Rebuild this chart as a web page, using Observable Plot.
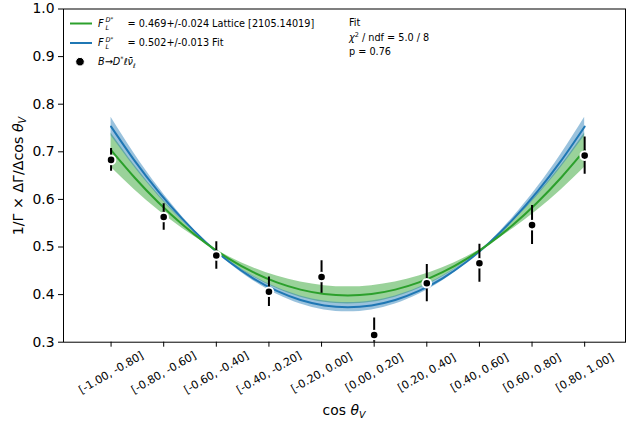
<!DOCTYPE html>
<html><head><meta charset="utf-8">
<script src="https://cdn.jsdelivr.net/npm/d3@7"></script>
<script src="https://cdn.jsdelivr.net/npm/@observablehq/plot@0.6"></script>
<style>body{margin:0;background:#fff;} #chart{width:626px;height:426px;}</style>
</head><body><div id="chart"></div>
<script>
// ---- data ----
const binLabels = ["[-1.00, -0.80]","[-0.80, -0.60]","[-0.60, -0.40]","[-0.40, -0.20]","[-0.20, 0.00]",
                   "[0.00, 0.20]","[0.20, 0.40]","[0.40, 0.60]","[0.60, 0.80]","[0.80, 1.00]"];
const dataY   = [0.683, 0.563, 0.482, 0.406, 0.437, 0.315, 0.424, 0.466, 0.546, 0.692];
const dataErr = [0.024, 0.028, 0.029, 0.031, 0.034, 0.036, 0.039, 0.040, 0.041, 0.039];
const yTicks = [0.3, 0.4, 0.5, 0.6, 0.7, 0.8, 0.9, 1.0];

const cosGrid = [-1.0,-0.9,-0.8,-0.7,-0.6,-0.5,-0.4,-0.3,-0.2,-0.1,0.0,0.1,0.2,0.3,0.4,0.5,0.6,0.7,0.8,0.9,1.0];
// Fit (F_L = 0.502 +/- 0.013)
const fitMid = [0.7530,0.6809,0.6164,0.5595,0.5101,0.4684,0.4342,0.4077,0.3887,0.3773,0.3735,0.3773,0.3887,0.4077,0.4342,0.4684,0.5101,0.5595,0.6164,0.6809,0.7530];
const fitLo  = [0.7335,0.6669,0.6074,0.5549,0.5093,0.4708,0.4393,0.4148,0.3973,0.3868,0.3833,0.3868,0.3973,0.4148,0.4393,0.4708,0.5093,0.5549,0.6074,0.6669,0.7335];
const fitHi  = [0.7725,0.6948,0.6254,0.5640,0.5109,0.4659,0.4292,0.4005,0.3801,0.3678,0.3638,0.3678,0.3801,0.4005,0.4292,0.4659,0.5109,0.5640,0.6254,0.6948,0.7725];
// Lattice (F_L = 0.469 +/- 0.024)
const latMid = [0.7035,0.6455,0.5936,0.5478,0.5081,0.4746,0.4471,0.4257,0.4105,0.4013,0.3983,0.4013,0.4105,0.4257,0.4471,0.4746,0.5081,0.5478,0.5936,0.6455,0.7035];
const latLo  = [0.6675,0.6198,0.5770,0.5394,0.5067,0.4791,0.4565,0.4389,0.4263,0.4188,0.4163,0.4188,0.4263,0.4389,0.4565,0.4791,0.5067,0.5394,0.5770,0.6198,0.6675];
const latHi  = [0.7395,0.6712,0.6102,0.5563,0.5096,0.4701,0.4377,0.4126,0.3946,0.3838,0.3803,0.3838,0.3946,0.4126,0.4377,0.4701,0.5096,0.5563,0.6102,0.6712,0.7395];

const GREEN = "#2ca02c", BLUE = "#1f77b4";

// ---- tables ----
const points = binLabels.map((b, i) => ({i, label: b, y: dataY[i], e: dataErr[i]}));
const nb = binLabels.length - 1;
const curve = cosGrid.map((c, k) => ({x: (c + 1) / 2 * nb,
  fm: fitMid[k], fl: fitLo[k], fh: fitHi[k], lm: latMid[k], ll: latLo[k], lh: latHi[k]}));

const plot = Plot.plot({
  width: 626, height: 426,
  marginLeft: 63, marginRight: 1, marginTop: 8.5, marginBottom: 84.3,
  x: {domain: [-0.904, 9.776], axis: null},
  y: {domain: [0.3, 1.0], axis: null},
  style: {fontFamily: "DejaVu Sans", background: "white", color: "black"},
  marks: [
    Plot.areaY(curve, {x: "x", y1: "ll", y2: "lh", fill: GREEN, fillOpacity: 0.48, curve: "natural"}),
    Plot.areaY(curve, {x: "x", y1: "fl", y2: "fh", fill: BLUE, fillOpacity: 0.45, curve: "natural"}),
    Plot.lineY(curve, {x: "x", y: "fm", stroke: BLUE, strokeWidth: 2, curve: "natural"}),
    Plot.lineY(curve, {x: "x", y: "lm", stroke: GREEN, strokeWidth: 2, curve: "natural"}),
    Plot.ruleX(points, {x: "i", y1: d => d.y - d.e, y2: d => d.y + d.e, stroke: "black", strokeWidth: 2, clip: true}),
    Plot.dot(points, {x: "i", y: "y", r: 4.3, fill: "black", stroke: "white", strokeWidth: 2}),
    Plot.frame({stroke: "black", strokeWidth: 1}),
    Plot.axisY({ticks: yTicks, tickFormat: d3.format(".1f"), tickSize: 5, tickPadding: 4, fontSize: 13.9, label: null}),
    Plot.axisX({ticks: points.map(d => d.i), tickSize: 5, tickFormat: () => "", label: null}),
    Plot.text(points, {x: "i", text: "label", frameAnchor: "bottom", dy: 30.5, rotate: -30,
      textAnchor: "middle", lineAnchor: "middle", fontSize: 11})
  ]
});
document.getElementById("chart").appendChild(plot);

// ---- annotations ----
const svg = d3.select(plot);
const g = svg.append("g").attr("font-family", "DejaVu Sans").attr("fill", "black").attr("text-anchor", "start");

// legend
const legendRows = [
  {color: GREEN, y: 23.5, text: "= 0.469+/-0.024 Lattice [2105.14019]"},
  {color: BLUE,  y: 43,   text: "= 0.502+/-0.013 Fit"}
];
legendRows.forEach(r => {
  g.append("line").attr("x1", 70).attr("x2", 92).attr("y1", r.y).attr("y2", r.y)
    .attr("stroke", r.color).attr("stroke-width", 2);
  const t = g.append("text").attr("y", r.y).attr("dy", "0.35em").attr("font-size", 9.7);
  t.append("tspan").attr("x", 98).attr("font-style", "italic").text("F");
  t.append("tspan").attr("x", 105.5).attr("dy", 3).attr("font-size", 6.5).attr("font-style", "italic").text("L");
  t.append("tspan").attr("x", 105.5).attr("dy", -7.5).attr("font-size", 6.5).attr("font-style", "italic").text("D");
  t.append("tspan").attr("dy", -1).attr("font-size", 5.5).text("*");
  t.append("tspan").attr("x", 127.5).attr("dy", 5.5).text(r.text);
});
g.append("circle").attr("cx", 80).attr("cy", 61.7).attr("r", 4.3).attr("fill", "black")
  .attr("stroke", "white").attr("stroke-width", 1);
{
  const t = g.append("text").attr("x", 98).attr("y", 61.7).attr("dy", "0.35em").attr("font-size", 9.7).attr("font-style", "italic");
  t.append("tspan").text("B\u2192D");
  t.append("tspan").attr("dy", -4).attr("font-size", 6.5).text("*");
  t.append("tspan").attr("dy", 4).text("\u2113\u03BD\u0304");
  t.append("tspan").attr("dy", 2.5).attr("font-size", 6.5).text("\u2113");
}

// fit info
g.append("text").attr("x", 349).attr("y", 23).attr("dy", "0.35em").attr("font-size", 9.7).text("Fit");
{
  const t = g.append("text").attr("x", 349).attr("y", 37.5).attr("dy", "0.35em").attr("font-size", 9.7);
  t.append("tspan").attr("font-style", "italic").text("\u03C7");
  t.append("tspan").attr("dy", -4).attr("font-size", 6.5).text("2");
  t.append("tspan").attr("dy", 4).text(" / ndf = 5.0 / 8");
}
g.append("text").attr("x", 349).attr("y", 52).attr("dy", "0.35em").attr("font-size", 9.7).text("p = 0.76");

// axis labels
{
  const t = g.append("text").attr("transform", "translate(18,176) rotate(-90)")
    .attr("text-anchor", "middle").attr("dy", "0.35em").attr("font-size", 14.2);
  t.append("tspan").text("1/\u0393 \u00D7 \u0394\u0393/\u0394cos ");
  t.append("tspan").attr("font-style", "italic").text("\u03B8");
  t.append("tspan").attr("dy", 3).attr("font-size", 9.7).attr("font-style", "italic").text("V");
}
{
  const t = g.append("text").attr("x", 344).attr("y", 410).attr("text-anchor", "middle")
    .attr("dy", "0.35em").attr("font-size", 13.9);
  t.append("tspan").text("cos ");
  t.append("tspan").attr("font-style", "italic").text("\u03B8");
  t.append("tspan").attr("dy", 3).attr("font-size", 9.5).attr("font-style", "italic").text("V");
}
</script>
</body></html>
